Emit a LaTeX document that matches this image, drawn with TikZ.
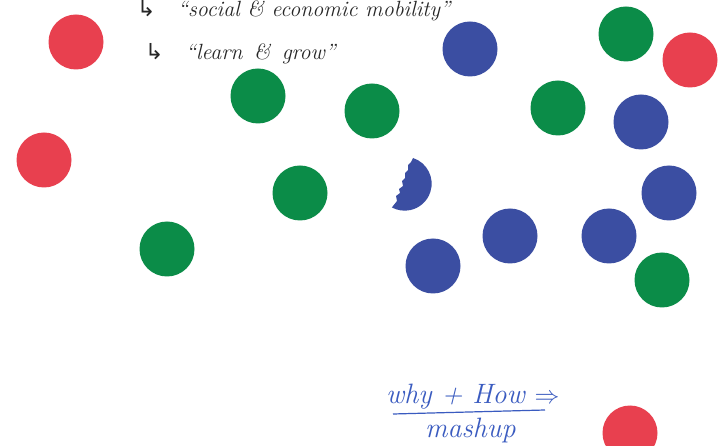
\documentclass[tikz,border=0pt]{standalone}
\usepackage{fontspec}
\newfontfamily\symfont{DejaVu Sans}
\definecolor{dotred}{HTML}{E8404F}
\definecolor{dotgreen}{HTML}{0B8C48}
\definecolor{dotblue}{HTML}{3B4EA2}
\definecolor{inkblue}{HTML}{3A5BC0}
\begin{document}
\begin{tikzpicture}[x=1pt,y=-1pt,
    dot/.style ={circle, inner sep=0pt, minimum size=55pt},
    rdot/.style={dot, fill=dotred},
    gdot/.style={dot, fill=dotgreen},
    bdot/.style={dot, fill=dotblue},
    hand/.style={anchor=base west, inner sep=0pt, font=\fontsize{22}{24}\selectfont\itshape, text=black!85},
    pen/.style ={anchor=base west, inner sep=0pt, font=\fontsize{28}{30}\selectfont\itshape, text=inkblue},
  ]
  \clip (0,0) rectangle (718,446);
  \fill[white] (0,0) rectangle (718,446);

  % notes at the top
  \node[hand] (note1) at (137,17) {{\symfont ↳}\quad``social \& economic mobility''};
  \node[hand] (note2) at (145,60) {{\symfont ↳}\quad``learn \,\&\, grow''};

  % red dots
  \node[rdot] (r1) at (76,42) {};
  \node[rdot] (r2) at (44,160) {};
  \node[rdot] (r3) at (690,60) {};
  \node[rdot] (r4) at (630,433) {};

  % green dots
  \node[gdot] (g1) at (258,96) {};
  \node[gdot] (g2) at (372,111) {};
  \node[gdot] (g3) at (626,34) {};
  \node[gdot] (g4) at (558,108) {};
  \node[gdot] (g5) at (300,193) {};
  \node[gdot] (g6) at (167,249) {};
  \node[gdot] (g7) at (662,280) {};

  % blue dots
  \node[bdot] (b1) at (470,49) {};
  \node[bdot] (b2) at (641,122) {};
  \node[bdot] (b3) at (669,193) {};
  \node[bdot] (b4) at (510,236) {};
  \node[bdot] (b5) at (609,236) {};
  \node[bdot] (b6) at (433,266) {};

  % torn blue dot
  \fill[dotblue] (413,158) arc[start angle=-72, end angle=118, radius=27]
    -- (393,206) -- (397,201) -- (396,196) -- (400,193) -- (399,189) -- (403,186)
    -- (402,181) -- (405,178) -- (405,173) -- (408,170) -- (408,165) -- (411,162) -- cycle;

  % why + how
  \node[pen] (why) at (386,403) {why + How $\Rightarrow$};
  \coordinate (barL) at (393,414);
  \coordinate (barR) at (545,410);
  \draw[inkblue, line width=1.2pt] (barL) -- (barR);
  \node[pen] (mash) at (425,438) {mashup};
\end{tikzpicture}
\end{document}
